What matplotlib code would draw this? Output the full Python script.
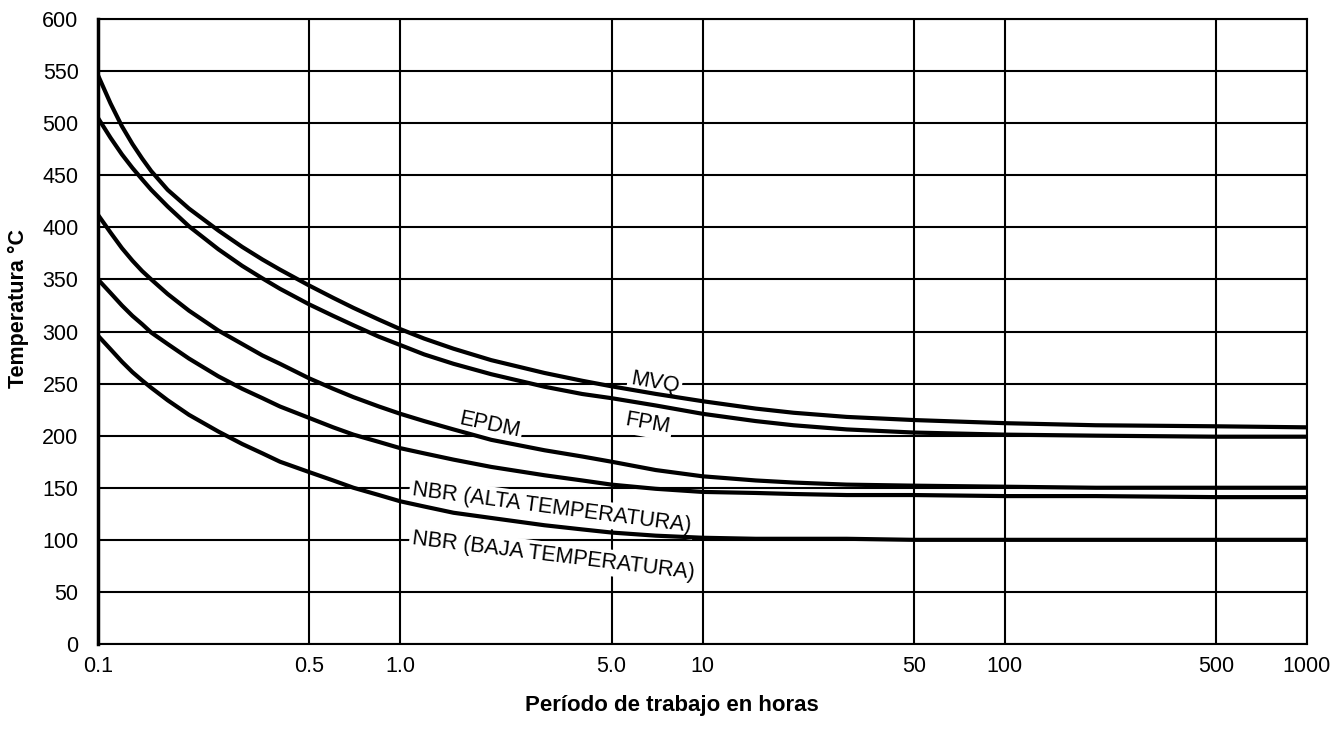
import matplotlib
matplotlib.use("Agg")
import matplotlib.pyplot as plt
from matplotlib.ticker import FixedLocator, NullLocator

plt.rcParams['font.family'] = ['Liberation Sans', 'DejaVu Sans']

# ---- data ----
hours = [0.1, 0.11, 0.12, 0.13, 0.14, 0.15, 0.17, 0.2, 0.25, 0.3, 0.35, 0.4, 0.5, 0.6,
         0.7, 0.85, 1, 1.2, 1.5, 2, 3, 4, 5, 7, 10, 15, 20, 30, 50, 100, 200, 500, 1000]
mvq = [546, 519, 497, 480, 466, 454, 436, 418, 397, 381.2, 369.1, 359.4, 344.1, 332.3,
       322.7, 311.4, 302.3, 293.2, 283.5, 272.5, 260.2, 252.7, 247.4, 240.1, 233.1, 226, 222,
       218, 215, 212, 210, 209, 208]
fpm = [505, 486, 470, 457, 446, 436, 420, 401, 379, 363, 351, 341, 326, 315,
       306, 295, 287, 278, 269, 259, 247, 240, 236, 229, 221, 214, 210, 206, 203, 201, 200, 199, 199]
epdm = [412, 395, 380, 368, 358, 350, 336, 320, 301, 288, 277, 269, 255, 245,
        237, 228, 221, 214, 206, 196, 186, 180, 175, 167, 161, 157, 155, 153, 152, 151, 150, 150, 150]
nbr_alta = [350, 337, 325, 315, 307, 299, 288, 274, 257, 245, 236, 228, 217, 208,
            201, 194, 188, 183, 177, 170, 162, 157, 153, 149, 146, 145, 144, 143, 143, 142, 142, 141, 141]
nbr_baja = [296, 283, 271, 261, 253, 246, 234, 220, 204, 192, 183, 175, 165, 157,
            150, 143, 137, 132, 126, 121, 114, 110, 107, 104, 102, 101, 101, 101, 100, 100, 100, 100, 100]

x_ticks = [0.1, 0.5, 1, 5, 10, 50, 100, 500, 1000]
x_ticklabels = ['0.1', '0.5', '1.0', '5.0', '10', '50', '100', '500', '1000']
y_ticks = list(range(0, 601, 50))

series = [mvq, fpm, epdm, nbr_alta, nbr_baja]
labels = ['MVQ', 'FPM', 'EPDM', 'NBR (ALTA TEMPERATURA)', 'NBR (BAJA TEMPERATURA)']
label_pos = [(5.75, 250), (5.5, 210), (1.55, 211), (1.09, 143), (1.09, 96)]
label_rot = [-10, -10, -12, -7.5, -7]

fig = plt.figure(figsize=(13.36, 7.39), dpi=100)
ax = fig.add_axes([98 / 1336, 1 - 644 / 739, (1307 - 98) / 1336, (644 - 19) / 739])

ax.set_xscale('log')
ax.set_xlim(0.1, 1000)
ax.set_ylim(0, 600)

for s in series:
    ax.plot(hours, s, color='black', lw=3.0, solid_capstyle='butt',
            solid_joinstyle='round', zorder=5)

for txt, (px, py), rot in zip(labels, label_pos, label_rot):
    ax.text(px, py, txt, fontsize=15.5, rotation=rot, rotation_mode='anchor',
            ha='left', va='baseline', zorder=4,
            bbox=dict(facecolor='white', edgecolor='none', pad=2))

ax.xaxis.set_major_locator(FixedLocator(x_ticks))
ax.xaxis.set_minor_locator(NullLocator())
ax.set_xticklabels(x_ticklabels)
ax.set_yticks(y_ticks)
ax.grid(True, which='major', color='black', lw=1.5, zorder=1)
ax.set_axisbelow(True)
ax.tick_params(axis='both', length=0, labelsize=15.5)
ax.tick_params(axis='x', pad=9)
ax.tick_params(axis='y', pad=14)

for side in ['top', 'right', 'bottom']:
    ax.spines[side].set_linewidth(1.5)
ax.spines['left'].set_linewidth(2.5)

fig.text(672 / 1336, 1 - 706 / 739, 'Período de trabajo en horas', ha='center', va='center',
         fontsize=16, fontweight='bold')
fig.text(18 / 1336, 1 - 308 / 739, 'Temperatura °C', ha='center', va='center',
         rotation=90, fontsize=15.5, fontweight='bold')

fig.savefig('out.png', dpi=100, facecolor='white')
